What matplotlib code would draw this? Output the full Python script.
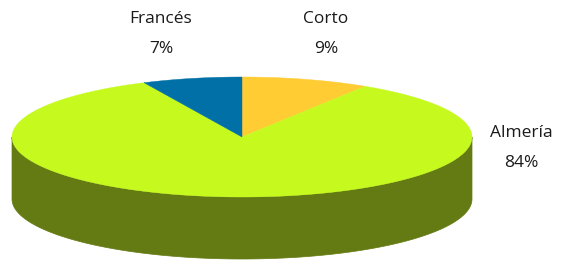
import numpy as np
import matplotlib
matplotlib.use("Agg")
import matplotlib.pyplot as plt
from matplotlib.patches import Polygon

# slices, clockwise from 12 o'clock
labels = ["Corto", "Almería", "Francés"]
values = [9, 84, 7]
top_colors = ["#FFCC33", "#C6FA1F", "#0070A6"]
side_colors = ["#B08A1F", "#647A12", "#004A70"]

# label positions (pixels)
label_pos = [(326, 19), (521, 133), (161, 19)]

cx, cy = 242, 137
a, b = 230, 60
depth = 62


def pt(t, dy=0):
    r = np.radians(t)
    return cx + a * np.cos(r), cy - b * np.sin(r) + dy


fig = plt.figure(figsize=(5.68, 2.62), dpi=100)
ax = fig.add_axes([0, 0, 1, 1])
ax.set_xlim(0, 568)
ax.set_ylim(262, 0)
ax.axis("off")

# counter-clockwise angle ranges
total = sum(values)
ranges = []
end = 90.0
for v in values:
    start = end - v / total * 360
    ranges.append((start, end))
    end = start

# side walls (front half: 180..360 deg)
for (t0, t1), col in zip(ranges, side_colors):
    for k in (-360, 0, 360):
        lo = max(t0, 180 + k)
        hi = min(t1, 360 + k)
        if hi <= lo:
            continue
        ts = np.linspace(lo, hi, 200)
        upper = [pt(t) for t in ts]
        lower = [pt(t, depth) for t in ts[::-1]]
        ax.add_patch(Polygon(upper + lower, closed=True, fc=col, ec=col, lw=0.5))

# top face
for (t0, t1), col in zip(ranges, top_colors):
    ts = np.linspace(t0, t1, 300)
    pts = [(cx, cy)] + [pt(t) for t in ts]
    ax.add_patch(Polygon(pts, closed=True, fc=col, ec=col, lw=0.3))

for lab, v, (x, y) in zip(labels, values, label_pos):
    ax.text(x, y, lab, ha="center", va="center", fontsize=12.5,
            family="Open Sans", color="#1a1a1a")
    ax.text(x, y + 30, f"{v}%", ha="center", va="center", fontsize=12.5,
            family="Open Sans", color="#1a1a1a")

fig.savefig("out.png", dpi=100)
